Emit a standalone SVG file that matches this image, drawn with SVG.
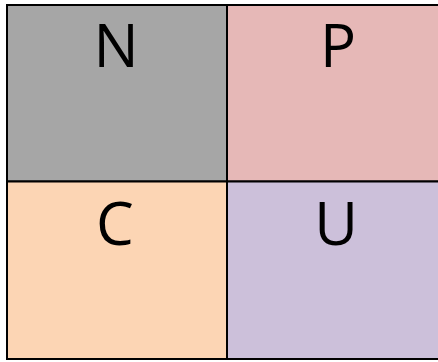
<svg xmlns="http://www.w3.org/2000/svg" width="438" height="362" viewBox="0 0 438 362">
<style>
.cell{stroke:#000;stroke-width:2}
.lbl{font-family:"Open Sans","Lato","DejaVu Sans",sans-serif;font-size:60px;fill:#000;text-anchor:middle}
</style>
<rect width="438" height="362" fill="#fff"/>
<g id="N"><rect class="cell" x="7" y="5" width="220" height="176.5" fill="#a6a6a6"/><text class="lbl" x="116" y="66.5">N</text></g>
<g id="P"><rect class="cell" x="227" y="5" width="225" height="176.5" fill="#e6b8b7"/><text class="lbl" x="338" y="66.5">P</text></g>
<g id="C"><rect class="cell" x="7" y="181.5" width="220" height="177.5" fill="#fcd5b4"/><text class="lbl" x="115" y="245">C</text></g>
<g id="U"><rect class="cell" x="227" y="181.5" width="225" height="177.5" fill="#ccc0da"/><text class="lbl" x="336" y="245">U</text></g>
<g id="connectors"/>
</svg>
